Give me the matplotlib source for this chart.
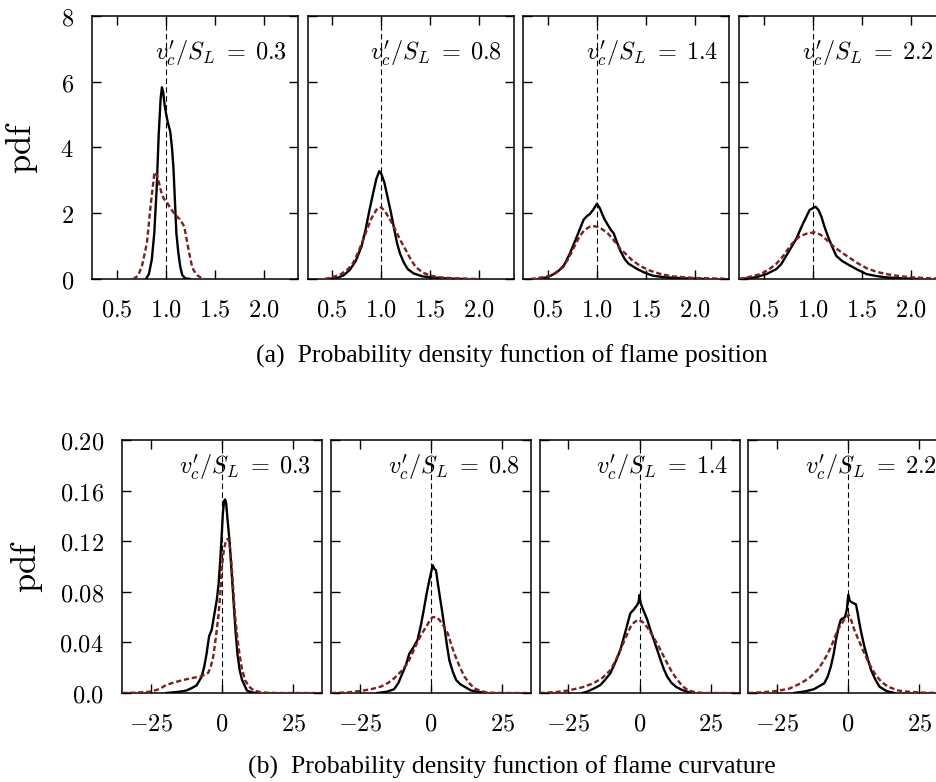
import matplotlib
matplotlib.use('Agg')
import matplotlib.pyplot as plt

plt.rcParams['mathtext.fontset'] = 'cm'
plt.rcParams['axes.linewidth'] = 1.1

RED = '#7b1f1f'
VELOCITY_RATIOS = ['0.3', '0.8', '1.4', '2.2']

# flame position pdf (top row), black solid = case A, red dashed = case B
POS_BLACK_X = [
    [0.80, 0.83, 0.86, 0.885, 0.91, 0.93, 0.95, 0.963, 0.975, 0.99, 1.004, 1.02, 1.048, 1.065, 1.08,
     1.095, 1.11, 1.13, 1.15, 1.17, 1.2, 1.25],
    [0.45, 0.55, 0.62, 0.68, 0.74, 0.8, 0.84, 0.88, 0.92, 0.95, 0.98, 1.0, 1.03, 1.06, 1.1, 1.13, 1.16,
     1.19, 1.23, 1.27, 1.33, 1.42, 1.55, 1.7, 1.85],
    [0.41, 0.5, 0.58, 0.656, 0.72, 0.78, 0.83, 0.863, 0.9, 0.925, 0.96, 1.0, 1.03, 1.05, 1.08, 1.11, 1.14,
     1.17, 1.2, 1.235, 1.28, 1.32, 1.4, 1.48, 1.57, 1.7, 1.9, 2.1],
    [0.25, 0.35, 0.43, 0.53, 0.63, 0.68, 0.73, 0.78, 0.83, 0.9, 0.97, 1.03, 1.06, 1.09, 1.12, 1.16, 1.2,
     1.24, 1.3, 1.38, 1.46, 1.55, 1.65, 1.75, 1.9, 2.1],
]
POS_BLACK_Y = [
    [0, 0.15, 0.6, 1.4, 2.8, 4.4, 5.5, 5.83, 5.7, 5.3, 5.05, 4.8, 4.48, 4.0, 3.4, 2.4, 1.4, 0.8, 0.37,
     0.12, 0.02, 0],
    [0, 0.03, 0.12, 0.28, 0.55, 1.0, 1.5, 2.1, 2.65, 3.05, 3.28, 3.2, 2.95, 2.55, 2.0, 1.55, 1.1, 0.78,
     0.5, 0.3, 0.17, 0.08, 0.04, 0.01, 0],
    [0, 0.06, 0.18, 0.37, 0.75, 1.18, 1.55, 1.8, 1.92, 1.97, 2.1, 2.29, 2.15, 2.0, 1.8, 1.65, 1.5, 1.39,
     1.15, 0.88, 0.62, 0.47, 0.32, 0.2, 0.1, 0.05, 0.02, 0],
    [0, 0.02, 0.06, 0.15, 0.3, 0.45, 0.7, 0.95, 1.2, 1.67, 2.1, 2.2, 2.1, 1.9, 1.6, 1.27, 0.98, 0.71,
     0.55, 0.41, 0.28, 0.15, 0.09, 0.05, 0.02, 0],
]
POS_RED_X = [
    [0.67, 0.72, 0.76, 0.81, 0.85, 0.885, 0.9, 0.93, 0.96, 0.98, 1.02, 1.05, 1.1, 1.15, 1.19, 1.215,
     1.24, 1.265, 1.285, 1.32, 1.36, 1.40],
    [0.42, 0.5, 0.59, 0.66, 0.71, 0.77, 0.84, 0.9, 0.96, 1.0, 1.04, 1.09, 1.145, 1.2, 1.25, 1.3, 1.35,
     1.42, 1.5, 1.6, 1.75, 2.0],
    [0.32, 0.42, 0.53, 0.62, 0.7, 0.76, 0.82, 0.87, 0.925, 0.96, 1.0, 1.05, 1.11, 1.17, 1.235, 1.3, 1.36,
     1.44, 1.525, 1.65, 1.77, 2.0, 2.3],
    [0.25, 0.35, 0.47, 0.55, 0.63, 0.7, 0.77, 0.82, 0.87, 0.94, 1.02, 1.08, 1.14, 1.21, 1.3, 1.38, 1.46,
     1.55, 1.65, 1.75, 1.9, 2.02, 2.2, 2.36],
]
POS_RED_Y = [
    [0, 0.1, 0.4, 1.1, 2.3, 3.2, 3.25, 2.96, 2.6, 2.45, 2.3, 2.15, 1.95, 1.8, 1.6, 1.2, 0.8, 0.45, 0.27,
     0.12, 0.04, 0],
    [0, 0.05, 0.15, 0.3, 0.47, 0.85, 1.39, 1.85, 2.15, 2.18, 2.05, 1.8, 1.49, 1.15, 0.88, 0.6, 0.37, 0.2,
     0.1, 0.05, 0.02, 0],
    [0, 0.04, 0.1, 0.28, 0.57, 0.93, 1.28, 1.48, 1.59, 1.61, 1.59, 1.52, 1.39, 1.18, 0.93, 0.74, 0.57,
     0.4, 0.27, 0.15, 0.08, 0.03, 0.01],
    [0, 0.06, 0.15, 0.28, 0.46, 0.7, 1.0, 1.17, 1.3, 1.38, 1.42, 1.35, 1.2, 1.0, 0.8, 0.64, 0.48, 0.33,
     0.22, 0.15, 0.08, 0.05, 0.02, 0.01],
]

# flame curvature pdf (bottom row)
CURV_BLACK_X = [
    [-19.5, -15, -12.4, -10.5, -8.9, -7.1, -6.2, -5.4, -4.5, -3.6, -2.7, -1.8, -1.2, -0.6, -0.1, 0.3,
     0.75, 1.1, 1.45, 1.9, 2.6, 3.3, 4.0, 4.7, 5.4, 6.2, 7.0, 8.7, 10.5, 12.2],
    [-18.8, -15.5, -12.9, -11.4, -10, -8.8, -7.6, -6.2, -4.7, -3.5, -2.35, -1.5, -0.6, 0, 0.6, 1.2, 1.76,
     2.3, 2.9, 3.8, 4.7, 5.5, 6.4, 7.6, 8.8, 10.2, 11.7, 14, 16.4, 19],
    [-20, -18.4, -16, -13.7, -12, -10.2, -8.5, -6.7, -5, -3.2, -2, -0.8, -0.3, 0, 0.4, 0.9, 1.8, 2.7, 3.8,
     5.0, 6.2, 7.4, 8.5, 9.7, 11.2, 12.7, 14.8, 16.8, 19],
    [-18.9, -15, -11.9, -10, -8.3, -7.1, -6, -5, -4.2, -3.3, -2.5, -1.8, -1.05, -0.4, 0.1, 0.6, 1.06, 1.9,
     2.8, 3.4, 4.0, 4.8, 5.7, 6.9, 8.1, 9.5, 11, 13.5, 16.3],
]
CURV_BLACK_Y = [
    [0, 0.001, 0.002, 0.004, 0.006, 0.013, 0.021, 0.031, 0.045, 0.05, 0.062, 0.074, 0.086, 0.105, 0.125,
     0.142, 0.152, 0.153, 0.15, 0.138, 0.121, 0.098, 0.074, 0.05, 0.031, 0.018, 0.0105, 0.002, 0.0005, 0],
    [0, 0.001, 0.003, 0.008, 0.0156, 0.022, 0.031, 0.036, 0.042, 0.054, 0.068, 0.079, 0.089, 0.095, 0.101,
     0.098, 0.097, 0.088, 0.079, 0.066, 0.052, 0.039, 0.026, 0.017, 0.0103, 0.007, 0.005, 0.002, 0.001, 0],
    [0, 0.001, 0.0035, 0.0063, 0.0105, 0.0156, 0.024, 0.034, 0.048, 0.063, 0.066, 0.0696, 0.072, 0.0775,
     0.071, 0.068, 0.063, 0.058, 0.05, 0.042, 0.034, 0.026, 0.019, 0.0129, 0.008, 0.005, 0.0025, 0.001, 0],
    [0, 0.0013, 0.003, 0.0055, 0.0077, 0.013, 0.021, 0.031, 0.042, 0.052, 0.058, 0.059, 0.060, 0.066,
     0.0775, 0.073, 0.072, 0.071, 0.070, 0.063, 0.055, 0.046, 0.037, 0.027, 0.018, 0.011, 0.005, 0.0015, 0],
]
CURV_RED_X = [
    [-35, -30, -25.2, -22, -19.5, -16.5, -13.6, -10.5, -7.75, -5.8, -4.8, -3.9, -3.05, -2.2, -1.3, -0.6,
     -0.16, 0.6, 1.4, 2.2, 2.8, 3.4, 4.0, 4.5, 5.3, 6.1, 7.0, 8.1, 9.5, 11.1, 13.5, 15.8, 20, 25, 35],
    [-35, -29, -24.6, -21, -17.6, -15, -12.9, -10.5, -8.2, -6.4, -4.7, -3.2, -1.76, -0.5, 0.6, 1.8, 2.9,
     4.4, 5.9, 7.0, 8.2, 10, 11.7, 13.5, 15.2, 17.5, 20, 25, 35],
    [-35, -29, -24.9, -20, -16.1, -13, -10.2, -8.5, -6.7, -5, -3.2, -1.8, -0.3, 1.2, 2.7, 4.4, 6.2, 8,
     9.7, 11.5, 13.3, 15, 16.8, 19.5, 22.6, 28, 35],
    [-35, -30, -24.8, -20.5, -16.5, -13.5, -10.7, -8.9, -7.1, -5.3, -3.6, -2.4, -1.3, -0.4, 0.2, 1.2,
     2.2, 3.7, 5.2, 7.2, 9.3, 11.6, 14, 17.5, 21, 27, 35],
]
CURV_RED_Y = [
    [0, 0.0003, 0.001, 0.003, 0.0064, 0.0085, 0.0103, 0.0118, 0.013, 0.0145, 0.016, 0.021, 0.029, 0.043,
     0.06, 0.078, 0.097, 0.112, 0.121, 0.122, 0.115, 0.1, 0.08, 0.063, 0.045, 0.031, 0.019, 0.01, 0.005,
     0.002, 0.0007, 0.0002, 0, 0, 0],
    [0, 0.0005, 0.0016, 0.003, 0.005, 0.008, 0.0116, 0.017, 0.0235, 0.032, 0.0406, 0.047, 0.052, 0.057,
     0.060, 0.060, 0.058, 0.053, 0.047, 0.039, 0.031, 0.021, 0.0129, 0.0075, 0.0037, 0.0015, 0.0003, 0, 0],
    [0, 0.0008, 0.002, 0.0045, 0.0077, 0.012, 0.018, 0.025, 0.034, 0.043, 0.052, 0.056, 0.058, 0.056,
     0.052, 0.046, 0.039, 0.031, 0.0235, 0.016, 0.0103, 0.0055, 0.0024, 0.0006, 0, 0, 0],
    [0, 0.0006, 0.0016, 0.0035, 0.0077, 0.012, 0.018, 0.024, 0.031, 0.04, 0.05, 0.054, 0.058, 0.060,
     0.062, 0.057, 0.05, 0.042, 0.034, 0.024, 0.0156, 0.009, 0.005, 0.002, 0.001, 0.0002, 0],
]

POS_XTICKS = [0.5, 1.0, 1.5, 2.0]
POS_XLABELS = ['0.5', '1.0', '1.5', '2.0']
POS_YTICKS = [0, 2, 4, 6, 8]
POS_YLABELS = ['0', '2', '4', '6', '8']
CURV_XTICKS = [-25, 0, 25]
CURV_XLABELS = ['-25', '0', '25']
CURV_YTICKS = [0, 0.04, 0.08, 0.12, 0.16, 0.20]
CURV_YLABELS = ['0.0', '0.04', '0.08', '0.12', '0.16', '0.20']

W, H = 936.0, 782.0


def mathLabels(labels):
    return ['$' + s + '$' for s in labels]


def styleAxis(ax, xticks, xlabels, yticks, ylabels, showY):
    ax.tick_params(which='both', direction='in', top=True, right=True, length=6.5, width=1.0,
                   labelsize=17.5)
    ax.tick_params(axis='x', pad=13)
    ax.tick_params(axis='y', pad=13)
    ax.set_xticks(xticks)
    ax.set_xticklabels(mathLabels(xlabels))
    ax.set_yticks(yticks)
    if showY:
        ax.set_yticklabels(mathLabels(ylabels))
    else:
        ax.set_yticklabels([])


def drawPanel(ax, bx, by, rx, ry, centre, ratio, textY):
    ax.axvline(centre, color='black', lw=0.8, dashes=(5, 3))
    ax.plot(bx, by, color='black', lw=1.7, zorder=3)
    ax.plot(rx, ry, color=RED, lw=1.7, dashes=(2.2, 1.2), zorder=4)
    ax.text(0.945, textY, r"$v^{\prime}_c/S_L\;=\;" + ratio + "$", transform=ax.transAxes,
            ha='right', va='center', fontsize=17.5)


fig = plt.figure(figsize=(W / 100, H / 100), dpi=100)

topLefts = [92, 307.7, 523.4, 739]
botLefts = [122, 331, 539.5, 748]

for i in range(4):
    ax = fig.add_axes([topLefts[i] / W, (H - 279) / H, 206 / W, 263 / H])
    drawPanel(ax, POS_BLACK_X[i], POS_BLACK_Y[i], POS_RED_X[i], POS_RED_Y[i], 1.0,
              VELOCITY_RATIOS[i], 0.86)
    ax.set_xlim(0.25, 2.35)
    ax.set_ylim(0, 8)
    styleAxis(ax, POS_XTICKS, POS_XLABELS, POS_YTICKS, POS_YLABELS, i == 0)
    if i == 0:
        ax.set_ylabel(r'$\mathrm{pdf}$', fontsize=25)
        ax.yaxis.set_label_coords(-0.25, 0.5)

for i in range(4):
    ax = fig.add_axes([botLefts[i] / W, (H - 693) / H, 200 / W, 253 / H])
    drawPanel(ax, CURV_BLACK_X[i], CURV_BLACK_Y[i], CURV_RED_X[i], CURV_RED_Y[i], 0.0,
              VELOCITY_RATIOS[i], 0.893)
    ax.set_xlim(-35, 35)
    ax.set_ylim(0, 0.2)
    styleAxis(ax, CURV_XTICKS, CURV_XLABELS, CURV_YTICKS, CURV_YLABELS, i == 0)
    if i == 0:
        ax.set_ylabel(r'$\mathrm{pdf}$', fontsize=25)
        ax.yaxis.set_label_coords(-0.385, 0.5)

fig.text(512 / W, 1 - 356 / H, '(a)  Probability density function of flame position',
         ha='center', va='center', fontsize=18.5, family='Liberation Serif')
fig.text(512 / W, 1 - 767 / H, '(b)  Probability density function of flame curvature',
         ha='center', va='center', fontsize=18.5, family='Liberation Serif')

fig.savefig('out.png', dpi=100)
